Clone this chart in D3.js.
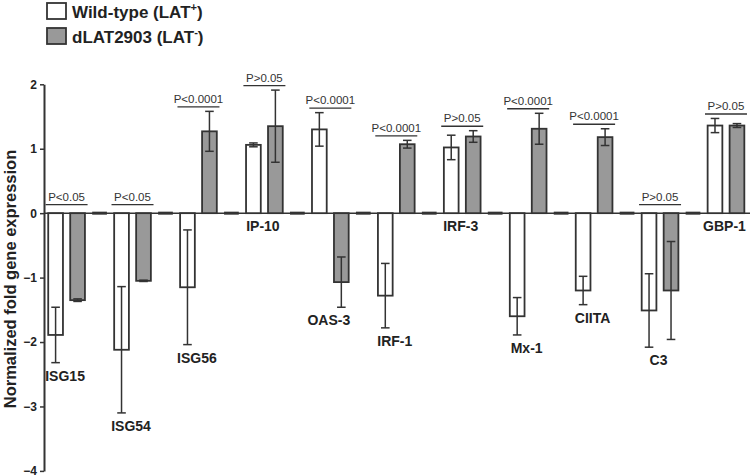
<!DOCTYPE html>
<html>
<head>
<meta charset="utf-8">
<script src="https://cdn.jsdelivr.net/npm/d3@7"></script>
<style>
  html, body { margin: 0; padding: 0; background: #fff; }
  svg { display: block; font-family: "Liberation Sans", Arial, sans-serif; }
</style>
</head>
<body>
<svg id="chart" width="750" height="475"></svg>
<script>
const genes = ["ISG15","ISG54","ISG56","IP-10","OAS-3","IRF-1","IRF-3","Mx-1","CIITA","C3","GBP-1"];
const wtMean  = [-1.89,-2.12,-1.15, 1.06, 1.30,-1.28, 1.02,-1.60,-1.20,-1.51, 1.36];
const wtErr   = [ 0.43, 0.98, 0.89, 0.03, 0.26, 0.50, 0.19, 0.29, 0.22, 0.57, 0.11];
const mutMean = [-1.35,-1.05, 1.27, 1.35,-1.07, 1.07, 1.19, 1.31, 1.18,-1.20, 1.36];
const mutErr  = [ 0.02, 0.01, 0.31, 0.56, 0.39, 0.06, 0.09, 0.24, 0.13, 0.76, 0.03];
const pLabels = ["P<0.05","P<0.05","P<0.0001","P>0.05","P<0.0001","P<0.0001","P>0.05","P<0.0001","P<0.0001","P>0.05","P>0.05"];
const yTicks  = [2, 1, 0, -1, -2, -3, -4];
const seriesNames = ["Wild-type (LAT", "dLAT2903 (LAT"];
const seriesSup = ["+", "-"];

const svg = d3.select("#chart");
const ink = "#333";
const grayFill = "#999";

const y = d3.scaleLinear().domain([-4, 2]).range([470.9, 84.3]);
const gx = d3.scaleBand().domain(genes).range([44.6, 44.6 + 11 * 65.94]);
const ix = d3.scaleBand().domain(["wt", "mut", "sep"]).range([0, gx.bandwidth()])
  .paddingInner(0.33).paddingOuter(0.165);
const bw = ix.bandwidth();

// Zero line
svg.append("line")
  .attr("x1", 44).attr("x2", 750)
  .attr("y1", y(0)).attr("y2", y(0))
  .attr("stroke", ink).attr("stroke-width", 1.5);

// Y axis
const yAxis = d3.axisLeft(y).tickValues(yTicks).tickFormat(d3.format("d"))
  .tickSize(4).tickSizeOuter(0).tickPadding(3);
const gy = svg.append("g").attr("transform", "translate(44,0)").call(yAxis);
gy.select(".domain").attr("stroke", ink).attr("stroke-width", 2);
gy.selectAll(".tick line").attr("stroke", ink).attr("stroke-width", 1.5);
gy.selectAll(".tick text")
  .attr("fill", "#222")
  .style("font-family", "'Liberation Sans', Arial, sans-serif")
  .style("font-size", "12px").style("font-weight", "bold");

// Y label
svg.append("text")
  .attr("transform", "translate(15.5,279) rotate(-90)")
  .attr("text-anchor", "middle")
  .attr("fill", "#222")
  .style("font-size", "16.5px").style("font-weight", "bold")
  .text("Normalized fold gene expression");

const data = genes.map((g, i) => ({
  gene: g, wt: wtMean[i], wtE: wtErr[i], mut: mutMean[i], mutE: mutErr[i], p: pLabels[i]
}));

const groups = svg.append("g").selectAll("g.grp").data(data).join("g")
  .attr("class", "grp")
  .attr("transform", d => `translate(${gx(d.gene)},0)`);

// separator dashes (empty third slot)
groups.append("line")
  .attr("x1", ix("sep")).attr("x2", ix("sep") + bw)
  .attr("y1", y(0)).attr("y2", y(0))
  .attr("stroke", ink).attr("stroke-width", 3);

function drawBar(sel, key, errKey, slot, fill) {
  sel.append("rect")
    .attr("x", ix(slot))
    .attr("width", bw)
    .attr("y", d => Math.min(y(0), y(d[key])))
    .attr("height", d => Math.abs(y(0) - y(d[key])))
    .attr("fill", fill)
    .attr("stroke", ink).attr("stroke-width", 1.8);
  const cx = ix(slot) + bw / 2;
  const cap = 4.3;
  const eb = sel.append("g");
  eb.append("line")
    .attr("x1", cx).attr("x2", cx)
    .attr("y1", d => y(d[key] + d[errKey])).attr("y2", d => y(d[key] - d[errKey]))
    .attr("stroke", ink).attr("stroke-width", 1.5);
  eb.append("line")
    .attr("x1", cx - cap).attr("x2", cx + cap)
    .attr("y1", d => y(d[key] + d[errKey])).attr("y2", d => y(d[key] + d[errKey]))
    .attr("stroke", ink).attr("stroke-width", 1.5);
  eb.append("line")
    .attr("x1", cx - cap).attr("x2", cx + cap)
    .attr("y1", d => y(d[key] - d[errKey])).attr("y2", d => y(d[key] - d[errKey]))
    .attr("stroke", ink).attr("stroke-width", 1.5);
}
drawBar(groups, "wt", "wtE", "wt", "#fff");
drawBar(groups, "mut", "mutE", "mut", grayFill);

const center = (ix("wt") + ix("mut") + bw) / 2;

// significance lines + labels
function topOf(d) {
  return Math.max(0, d.wt + d.wtE, d.mut + d.mutE);
}
function lowOf(d) {
  return Math.min(0, d.wt - d.wtE, d.mut - d.mutE);
}
groups.append("line")
  .attr("x1", center - 21).attr("x2", center + 21)
  .attr("y1", d => topOf(d) > 0 ? y(topOf(d)) - 4.5 : y(0) - 8.5)
  .attr("y2", d => topOf(d) > 0 ? y(topOf(d)) - 4.5 : y(0) - 8.5)
  .attr("stroke", ink).attr("stroke-width", 1.4);
groups.append("text")
  .attr("x", center)
  .attr("y", d => (topOf(d) > 0 ? y(topOf(d)) - 4.5 : y(0) - 8.5) - 4)
  .attr("text-anchor", "middle")
  .attr("fill", "#333")
  .style("font-size", "11.5px")
  .text(d => d.p);

// gene labels
groups.append("text")
  .attr("x", center - 1.5)
  .attr("y", d => y(lowOf(d)) + 18)
  .attr("text-anchor", "middle")
  .attr("fill", "#222")
  .style("font-size", "14px").style("font-weight", "bold")
  .text(d => d.gene);

// legend
const leg = svg.append("g");
const legRows = leg.selectAll("g").data(seriesNames).join("g")
  .attr("transform", (d, i) => `translate(47,${3 + i * 25})`);
legRows.append("rect")
  .attr("width", 19).attr("height", 16)
  .attr("fill", (d, i) => i === 0 ? "#fff" : grayFill)
  .attr("stroke", ink).attr("stroke-width", 1.8);
const lt = legRows.append("text")
  .attr("x", 25).attr("y", 14.5)
  .attr("fill", "#222")
  .style("font-size", "17px").style("font-weight", "bold");
lt.append("tspan").text(d => d);
lt.append("tspan").attr("dy", -7).style("font-size", "11px").text((d, i) => seriesSup[i]);
lt.append("tspan").attr("dy", 7).text(")");
</script>
</body>
</html>
